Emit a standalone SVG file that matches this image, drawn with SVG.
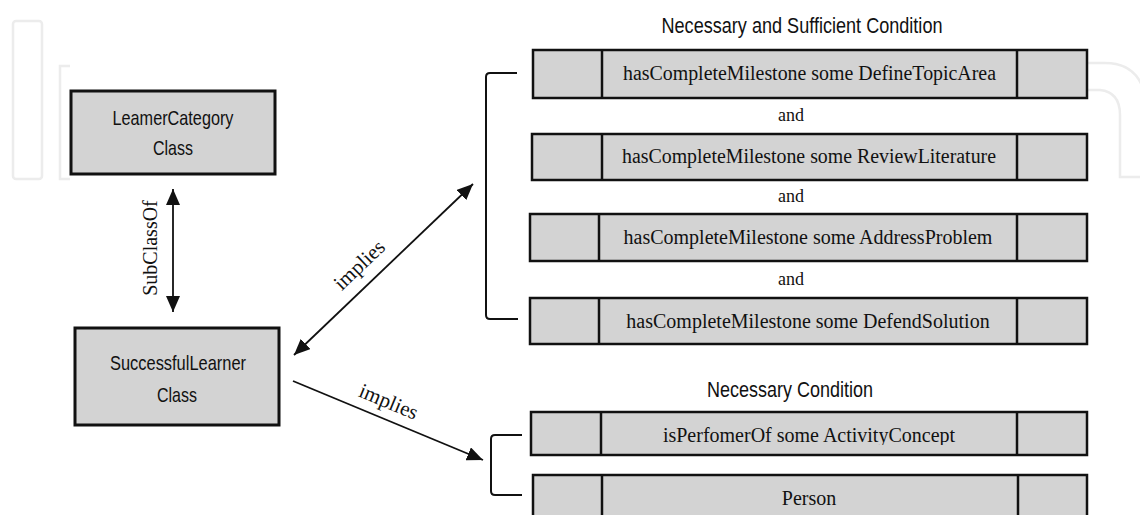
<svg xmlns="http://www.w3.org/2000/svg" width="1140" height="515" viewBox="0 0 1140 515">
<style>
.bg{fill:#ffffff}
.wm{fill:none;stroke:#ececec;stroke-width:2.5}
.box{fill:#d3d3d3;stroke:#111;stroke-width:3}
.row{fill:#d3d3d3;stroke:#111;stroke-width:2.5}
.div{stroke:#111;stroke-width:2.5}
.sans{font-family:"Liberation Sans",Arial,sans-serif;fill:#111}
.serif{font-family:"Liberation Serif","Times New Roman",serif;fill:#111}
.rowtxt{font-size:20px;text-anchor:middle}
.conn{fill:none;stroke:#111;stroke-width:1.8}
.brk{fill:none;stroke:#111;stroke-width:2}
</style>
<defs>
<marker id="ah" markerUnits="userSpaceOnUse" markerWidth="17" markerHeight="14" refX="16" refY="7" orient="auto-start-reverse" viewBox="0 0 17 14">
<path d="M0,0 L16,7 L0,14 z" fill="#111"/>
</marker>
<clipPath id="clip5"><rect x="600" y="412" width="420" height="33"/></clipPath>
</defs>
<rect class="bg" x="0" y="0" width="1140" height="515"/>
<g id="watermark">
<rect class="wm" x="13" y="21" width="29" height="158" rx="3"/>
<path class="wm" d="M70,66 H60 V179 H70"/>
<path class="wm" d="M1088,63 H1105 Q1140,63 1146,100"/>
<path class="wm" d="M1087,90 H1100 Q1120,92 1120,115 V177 H1140"/>
</g>
<g id="node-learnercategory">
<rect class="box" x="71" y="91" width="204" height="83"/>
<text class="sans" x="173" y="125" font-size="21" text-anchor="middle" textLength="121" lengthAdjust="spacingAndGlyphs">LeamerCategory</text>
<text class="sans" x="173" y="155" font-size="21" text-anchor="middle" textLength="40" lengthAdjust="spacingAndGlyphs">Class</text>
</g>
<g id="node-successfullearner">
<rect class="box" x="75" y="328" width="204" height="97"/>
<text class="sans" x="178" y="370" font-size="21" text-anchor="middle" textLength="136" lengthAdjust="spacingAndGlyphs">SuccessfulLearner</text>
<text class="sans" x="177" y="402" font-size="21" text-anchor="middle" textLength="40" lengthAdjust="spacingAndGlyphs">Class</text>
</g>
<g id="title-nsc">
<text class="sans" x="802" y="33" font-size="22" text-anchor="middle" textLength="281" lengthAdjust="spacingAndGlyphs">Necessary and Sufficient Condition</text>
</g>
<g id="title-nc">
<text class="sans" x="790" y="397" font-size="22" text-anchor="middle" textLength="166" lengthAdjust="spacingAndGlyphs">Necessary Condition</text>
</g>
<g id="row-definetopicarea">
<rect class="row" x="533" y="50" width="554" height="48"/>
<line class="div" x1="602" y1="50" x2="602" y2="98"/>
<line class="div" x1="1017" y1="50" x2="1017" y2="98"/>
<text class="serif rowtxt" x="809.5" y="80" textLength="373" lengthAdjust="spacingAndGlyphs">hasCompleteMilestone some DefineTopicArea</text>
</g>
<g id="and-1"><text class="serif" x="791" y="121" font-size="18" text-anchor="middle">and</text></g>
<g id="row-reviewliterature">
<rect class="row" x="532" y="134" width="555" height="46"/>
<line class="div" x1="602" y1="134" x2="602" y2="180"/>
<line class="div" x1="1017" y1="134" x2="1017" y2="180"/>
<text class="serif rowtxt" x="809" y="163" textLength="374" lengthAdjust="spacingAndGlyphs">hasCompleteMilestone some ReviewLiterature</text>
</g>
<g id="and-2"><text class="serif" x="791" y="202" font-size="18" text-anchor="middle">and</text></g>
<g id="row-addressproblem">
<rect class="row" x="530" y="214" width="557" height="47"/>
<line class="div" x1="599" y1="214" x2="599" y2="261"/>
<line class="div" x1="1017" y1="214" x2="1017" y2="261"/>
<text class="serif rowtxt" x="808" y="244">hasCompleteMilestone some AddressProblem</text>
</g>
<g id="and-3"><text class="serif" x="791" y="285" font-size="18" text-anchor="middle">and</text></g>
<g id="row-defendsolution">
<rect class="row" x="530" y="298" width="557" height="46"/>
<line class="div" x1="599" y1="298" x2="599" y2="344"/>
<line class="div" x1="1017" y1="298" x2="1017" y2="344"/>
<text class="serif rowtxt" x="808" y="328">hasCompleteMilestone some DefendSolution</text>
</g>
<g id="row-activityconcept">
<rect class="row" x="531" y="412" width="556" height="43"/>
<line class="div" x1="601" y1="412" x2="601" y2="455"/>
<line class="div" x1="1017" y1="412" x2="1017" y2="455"/>
<text class="serif rowtxt" x="809" y="442" clip-path="url(#clip5)">isPerfomerOf some ActivityConcept</text>
</g>
<g id="row-person">
<rect class="row" x="533" y="475" width="554" height="55"/>
<line class="div" x1="602" y1="475" x2="602" y2="530"/>
<line class="div" x1="1018" y1="475" x2="1018" y2="530"/>
<text class="serif rowtxt" x="809" y="505">Person</text>
</g>
<g id="connectors">
<path class="brk" d="M517,73 H490 Q486,73 486,77 V315 Q486,319 490,319 H518"/>
<path class="brk" d="M522,435 H495 Q491,435 491,439 V491 Q491,495 495,495 H522"/>
<line class="conn" x1="173" y1="189" x2="173" y2="312" marker-start="url(#ah)" marker-end="url(#ah)"/>
<line class="conn" x1="294" y1="355" x2="473" y2="184" marker-start="url(#ah)" marker-end="url(#ah)"/>
<line class="conn" x1="293" y1="381" x2="483" y2="460" marker-end="url(#ah)"/>
<text class="serif" font-size="20" text-anchor="middle" transform="translate(157,248) rotate(-90)">SubClassOf</text>
<text class="serif" font-size="21" text-anchor="middle" transform="translate(364,270) rotate(-43.7)">implies</text>
<text class="serif" font-size="21" text-anchor="middle" transform="translate(386,408) rotate(22.6)">implies</text>
</g>
</svg>
